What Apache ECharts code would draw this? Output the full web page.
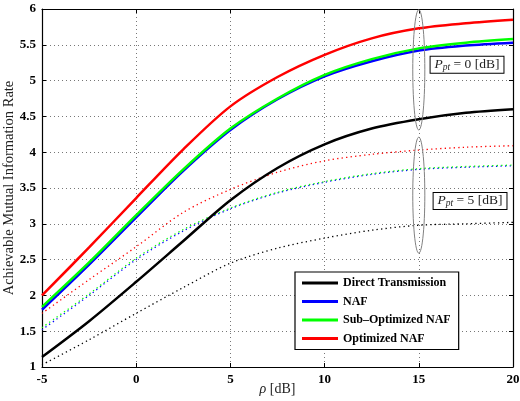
<!DOCTYPE html>
<html>
<head>
<meta charset="utf-8">
<script src="https://cdn.jsdelivr.net/npm/echarts@6/dist/echarts.min.js"></script>
<style>
  html, body { margin: 0; padding: 0; background: #fff; }
  #root { width: 520px; height: 401px; }
</style>
</head>
<body>
<div id="root"></div>
<script>
// rho [dB]
const rho = [-5, -2.5, 0, 2.5, 5, 7.5, 10, 12.5, 15, 17.5, 20];

// P_pt = 0 dB (solid)
const direct0 = [1.14, 1.64, 2.19, 2.76, 3.33, 3.78, 4.11, 4.33, 4.46, 4.55, 4.60];
const naf0    = [1.80, 2.43, 3.09, 3.74, 4.31, 4.74, 5.06, 5.27, 5.42, 5.49, 5.53];
const subOpt0 = [1.84, 2.46, 3.12, 3.76, 4.33, 4.75, 5.08, 5.30, 5.45, 5.53, 5.58];
const opt0    = [2.00, 2.67, 3.36, 4.04, 4.64, 5.05, 5.36, 5.59, 5.73, 5.80, 5.85];

// P_pt = 5 dB (dotted)
const direct5 = [1.03, 1.38, 1.75, 2.11, 2.45, 2.66, 2.80, 2.91, 2.98, 3.00, 3.02];
const naf5    = [1.52, 2.00, 2.50, 2.90, 3.21, 3.43, 3.58, 3.69, 3.76, 3.79, 3.81];
const subOpt5 = [1.55, 2.02, 2.52, 2.92, 3.22, 3.44, 3.59, 3.70, 3.77, 3.80, 3.82];
const opt5    = [1.75, 2.22, 2.68, 3.16, 3.48, 3.72, 3.88, 3.97, 4.03, 4.07, 4.09];

const names = ['Direct Transmission', 'NAF', 'Sub\u2013Optimized NAF', 'Optimized NAF'];
const colors = ['#000000', '#0000ff', '#00ff00', '#ff0000'];

// annotation ellipses: [x, yCenter, width, height]
const ellipses = [[15, 5.15, 0.64, 1.68], [15, 3.40, 0.64, 1.62]];
// annotation labels: [x, y, P_pt]
const boxes = [[17.56, 5.22, '0'], [17.72, 3.32, '5']];

const serif = 'Liberation Serif';
const pairs = v => rho.map((x, i) => [x, v[i]]);

let myCharts = echarts.init(document.getElementById('root'));

const solid = [direct0, naf0, subOpt0, opt0].map((v, i) => ({
    name: names[i],
    type: 'line',
    data: pairs(v),
    smooth: 0.3,
    showSymbol: false,
    symbol: 'none',
    color: colors[i],
    lineStyle: { color: colors[i], width: 2.5 },
    z: 3
}));
const dotted = [direct5, naf5, subOpt5, opt5].map((v, i) => ({
    name: names[i] + ' 5',
    type: 'line',
    data: pairs(v),
    smooth: 0.3,
    showSymbol: false,
    symbol: 'none',
    color: colors[i],
    lineStyle: { color: colors[i], width: 1.3, type: [1.3, 3.2] },
    z: 2
}));

const axisCommon = {
    axisLine: { show: true, onZero: false, lineStyle: { color: '#000', width: 1.2 } },
    axisTick: { show: true, inside: true, length: 4, lineStyle: { color: '#000' } }
};

let option = {
    animation: false,
    grid: { left: 42, top: 9, right: 7, bottom: 34, containLabel: false, outerBoundsMode: 'none' },
    xAxis: [{
        type: 'value', min: -5, max: 20, interval: 5,
        ...axisCommon,
        axisLabel: { color: '#000', fontFamily: serif, fontWeight: 'bold', fontSize: 13, margin: 6 },
        splitLine: { show: true, lineStyle: { color: '#777', type: [1, 3], width: 1 } },
        name: '{i|\u03c1} [dB]',
        nameLocation: 'middle',
        nameGap: 15,
        nameMoveOverlap: false,
        nameTextStyle: {
            color: '#222', fontFamily: serif, fontSize: 14,
            rich: { i: { fontStyle: 'italic', fontFamily: serif, fontSize: 14, color: '#222' } }
        }
    }, {
        type: 'value', min: -5, max: 20, interval: 5, position: 'top',
        ...axisCommon,
        axisLabel: { show: false }, splitLine: { show: false }
    }],
    yAxis: [{
        type: 'value', min: 1, max: 6, interval: 0.5,
        ...axisCommon,
        axisLabel: { color: '#000', fontFamily: serif, fontWeight: 'bold', fontSize: 13, margin: 6 },
        splitLine: { show: true, lineStyle: { color: '#777', type: [1, 3], width: 1 } },
        name: 'Achievable Mutual Information Rate',
        nameLocation: 'middle',
        nameGap: 25,
        nameMoveOverlap: false,
        nameTextStyle: { color: '#222', fontFamily: serif, fontSize: 14.5 }
    }, {
        type: 'value', min: 1, max: 6, interval: 0.5, position: 'right',
        ...axisCommon,
        axisLabel: { show: false }, splitLine: { show: false }
    }],
    legend: {
        data: names,
        orient: 'vertical',
        left: 295, top: 272,
        backgroundColor: '#fff',
        borderColor: '#000',
        borderWidth: 1.2,
        padding: [4, 8, 4, 7],
        itemGap: 4.5,
        itemWidth: 36,
        itemHeight: 3,
        icon: 'rect',
        selectedMode: false,
        textStyle: { color: '#000', fontFamily: serif, fontWeight: 'bold', fontSize: 12, lineHeight: 14 }
    },
    series: [
        ...dotted,
        ...solid,
        {
            type: 'custom',
            name: 'ellipses',
            data: ellipses,
            z: 5,
            silent: true,
            renderItem: (params, api) => {
                const c = api.coord([api.value(0), api.value(1)]);
                const s = api.size([api.value(2), api.value(3)]);
                const pts = [];
                for (let k = 0; k <= 60; k++) {
                    const t = k / 60 * Math.PI * 2;
                    pts.push([c[0] + s[0] / 2 * Math.cos(t), c[1] + s[1] / 2 * Math.sin(t)]);
                }
                return { type: 'polyline', shape: { points: pts }, style: { stroke: '#808080', lineWidth: 1, fill: null } };
            }
        },
        {
            type: 'custom',
            name: 'boxes',
            data: boxes,
            z: 6,
            silent: true,
            renderItem: (params, api) => {
                const c = api.coord([api.value(0), api.value(1)]);
                const v = boxes[params.dataIndex][2];
                return {
                    type: 'text',
                    x: c[0], y: c[1],
                    style: {
                        text: '{p|P}{s|pt}{t| = ' + v + ' [dB]}',
                        align: 'center', verticalAlign: 'middle',
                        backgroundColor: '#fff', borderColor: '#000', borderWidth: 1,
                        padding: [0, 4, 0, 4],
                        fill: '#222',
                        rich: {
                            p: { fontFamily: serif, fontStyle: 'italic', fontSize: 13.5, lineHeight: 16, fill: '#222' },
                            s: { fontFamily: serif, fontStyle: 'italic', fontSize: 9.5, lineHeight: 16, verticalAlign: 'bottom', fill: '#222' },
                            t: { fontFamily: serif, fontSize: 13.5, lineHeight: 16, fill: '#222' }
                        }
                    }
                };
            }
        }
    ]
};
myCharts.setOption(option);
</script>
</body>
</html>
